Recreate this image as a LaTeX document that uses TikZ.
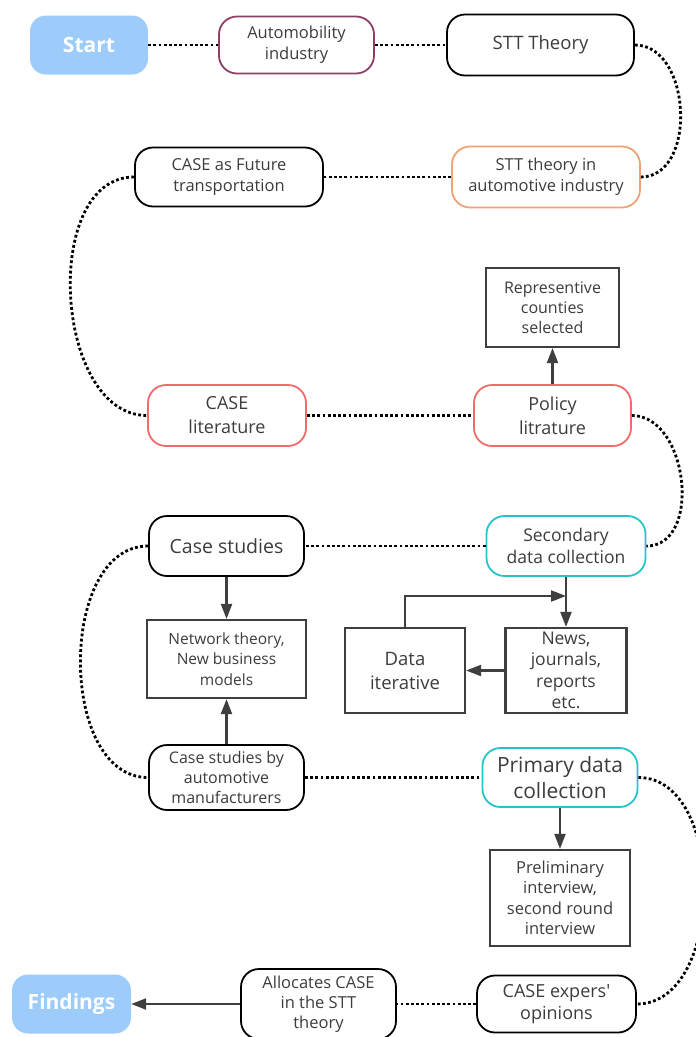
\documentclass[tikz,border=0pt]{standalone}
\usepackage{fontspec}
\setmainfont{Open Sans}
\usetikzlibrary{arrows.meta,positioning}
\definecolor{flowblue}{HTML}{9DCCFB}
\definecolor{flowtext}{HTML}{3C3C3C}
\definecolor{flowgray}{HTML}{3F3F3F}
\definecolor{flowplum}{HTML}{8E3F68}
\definecolor{flowpeach}{HTML}{EFA273}
\definecolor{flowred}{HTML}{F26B6B}
\definecolor{flowcyan}{HTML}{25C4CC}
\tikzset{
 flow step/.style={draw=black,line width=1.8pt,rounded corners=18pt,align=center,
                   text=flowtext,inner sep=1pt},
 flow term/.style={fill=flowblue,rounded corners=16pt,text=white,
                   font=\bfseries\fontsize{21}{25}\selectfont},
 flow box/.style={draw=flowgray,line width=2.2pt,align=center,text=flowtext,inner sep=1pt},
 flow link/.style={line width=2.8pt,dash pattern=on 2.8pt off 2.4pt},
 flow arrow/.style={line width=2.2pt,draw=flowgray,
                    -{Triangle[length=15pt,width=11pt]},color=flowgray}
}

\begin{document}
\begin{tikzpicture}[x=1pt,y=-1pt]
 \useasboundingbox (0,0) rectangle (696,1037);
 % the snake runs left-right, right-left ... down the page
 \node[flow term,minimum width=118pt,minimum height=59pt] (start) at (89,45) {Start};
 \node[flow step,draw=flowplum,minimum width=155pt,minimum height=57pt,
       font=\fontsize{16.5}{21}\selectfont] (auto) at (296.5,45) {Automobility\\industry};
 \node[flow step,minimum width=187pt,minimum height=61pt,
       font=\fontsize{18.5}{22}\selectfont] (stt) at (540.5,45) {STT Theory};

 \node[flow step,draw=flowpeach,minimum width=188pt,minimum height=61pt,
       font=\fontsize{16.5}{21}\selectfont] (sttauto) at (546,177) {STT theory in\\automotive industry};
 \node[flow step,minimum width=188pt,minimum height=59pt,
       font=\fontsize{16.5}{21}\selectfont] (casefut) at (229,177) {CASE as Future\\transportation};

 \node[flow step,draw=flowred,minimum width=158pt,minimum height=61pt,
       font=\fontsize{18}{24}\selectfont] (caselit) at (227,415.5) {CASE\\literature};
 \node[flow step,draw=flowred,minimum width=157pt,minimum height=61pt,
       font=\fontsize{18}{24}\selectfont] (policy) at (552.5,415.5) {Policy\\litrature};
 \node[flow box,minimum width=133pt,minimum height=79pt,
       font=\fontsize{16}{20}\selectfont] (repr) at (552.5,307.5) {Representive\\counties\\selected};

 \node[flow step,minimum width=155pt,minimum height=60pt,
       font=\fontsize{19.5}{24}\selectfont] (casest) at (226.5,546) {Case studies};
 \node[flow step,draw=flowcyan,minimum width=159pt,minimum height=60pt,
       font=\fontsize{17.5}{22}\selectfont] (second) at (566,546) {Secondary\\data collection};
 \node[flow box,minimum width=159pt,minimum height=78pt,
       font=\fontsize{15.5}{20.5}\selectfont] (network) at (226.5,659) {Network theory,\\New business\\models};
 \node[flow box,minimum width=120pt,minimum height=85pt,
       font=\fontsize{18.5}{24}\selectfont] (dataiter) at (405,670.5) {Data\\iterative};
 \node[flow box,minimum width=121pt,minimum height=85pt,
       font=\fontsize{17.5}{21.5}\selectfont] (news) at (566,670.5) {News,\\journals,\\reports\\etc.};
 \coordinate (loop) at (566,596);

 \node[flow step,minimum width=155pt,minimum height=65pt,
       font=\fontsize{16}{20}\selectfont] (casesby) at (226.5,777.5) {Case studies by\\automotive\\manufacturers};
 \node[flow step,draw=flowcyan,minimum width=155pt,minimum height=59pt,
       font=\fontsize{21}{26}\selectfont] (primary) at (560,777.5) {Primary data\\collection};
 \node[flow box,minimum width=140pt,minimum height=96pt,
       font=\fontsize{16.5}{20.5}\selectfont] (prelim) at (560,898) {Preliminary\\interview,\\second round\\interview};

 \node[flow step,minimum width=159pt,minimum height=57pt,
       font=\fontsize{18}{22}\selectfont] (experts) at (556.5,1004) {CASE expers\textquotesingle\\opinions};
 \node[flow step,minimum width=155pt,minimum height=70pt,
       font=\fontsize{16.5}{20}\selectfont] (alloc) at (318.5,1004) {Allocates CASE\\in the STT\\theory};
 \node[flow term,minimum width=119pt,minimum height=59pt] (findings) at (71.5,1004) {Findings};

 \draw[flow link] (start) -- (auto);
 \draw[flow link] (auto) -- (stt);
 \draw[flow link] (stt.east) to[out=0,in=0,looseness=1.1] (sttauto.east);
 \draw[flow link] (sttauto) -- (casefut);
 \draw[flow link] (casefut.west) to[out=180,in=180,looseness=1] (caselit.west);
 \draw[flow link] (caselit) -- (policy);
 \draw[flow link] (policy.east) to[out=0,in=0,looseness=1.1] (second.east);
 \draw[flow link] (second) -- (casest);
 \draw[flow link] (casest.west) to[out=180,in=180,looseness=1] (casesby.west);
 \draw[flow link] (casesby) -- (primary);
 \draw[flow link] (primary.east) to[out=0,in=0,looseness=1] (experts.east);
 \draw[flow link] (experts) -- (alloc);

 \draw[flow arrow] (policy) -- (repr);
 \draw[flow arrow] (casest) -- (network);
 \draw[flow arrow] (casesby) -- (network);
 \draw[flow arrow] (second) -- (news);
 \draw[flow arrow] (news) -- (dataiter);
 \draw[flow arrow] (dataiter.north) |- (loop);
 \draw[flow arrow] (primary) -- (prelim);
 \draw[flow arrow] (alloc) -- (findings);
\end{tikzpicture}
\end{document}
